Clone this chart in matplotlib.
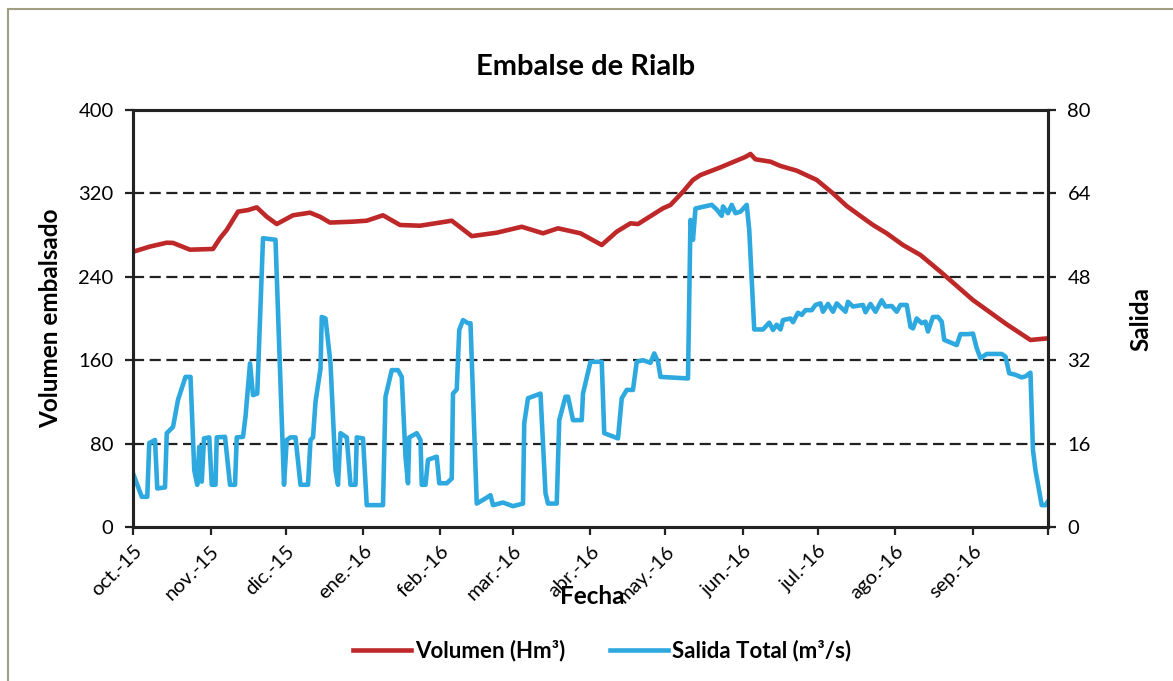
import pandas as pd
import matplotlib.pyplot as plt
from matplotlib.patches import Rectangle

plt.rcParams['font.family'] = ['Lato', 'DejaVu Sans']

#-----------------------------------------------------------------#
# Datos (dias desde 1-oct-2015)

inicio = pd.Timestamp('2015-10-01')

dias_vol = [0, 6.8, 13.5, 16, 22.8, 32, 34.8, 37.5, 42, 46, 49.5, 53.5, 57.5, 64,
            70.8, 74.8, 78.8, 88, 93.5, 100, 106.8, 114.8, 122.8, 127.5, 135.5,
            145.5, 155.5, 164, 170, 179, 187.5, 193.5, 199, 202, 212, 215, 220,
            224, 227, 235, 245, 247, 249, 255, 259, 265.5, 273.5, 280, 285.5, 291,
            296, 301.5, 308, 315, 323, 336, 349.5, 359, 366]
volumen = [264, 269, 272.7, 272.5, 266, 266.7, 277, 285, 302.5, 304, 306.6, 297.6,
           290.6, 299, 301.5, 297.6, 292, 292.9, 293.8, 299, 289.7, 289, 292, 293.8,
           279, 282.3, 288, 281.7, 286.5, 281.7, 270.5, 283.3, 291.3, 290.6, 305.7,
           308.9, 321.6, 332.9, 337.6, 345, 355, 357.8, 352.7, 350.4, 346.3, 341.8,
           332.9, 320, 307.9, 298.3, 289.7, 281.7, 270.5, 260.9, 244.9, 217.7, 194.4,
           179.4, 181]

dias_sal = [0, 3.5, 5.7, 6.5, 8.8, 9.7, 12.8, 13.5, 16, 18, 21, 23, 24.5, 25.7, 26.5,
            27.5, 28.4, 30.5, 31.5, 33, 33.5, 36.8, 38.8, 40.8, 41.5, 44, 45, 46.8, 48,
            49.7, 52, 57, 60.4, 61.5, 63, 65, 67, 70, 71, 72, 73, 75, 75.5, 77, 79, 81,
            82, 83, 85.5, 87, 89, 89.5, 92, 93.5, 100, 101, 103.5, 106, 107.5, 109, 110,
            110.5, 113.5, 115, 115.5, 117, 118, 121.5, 122.5, 125.5, 127.5, 128, 129.5,
            130.5, 132, 134, 135, 137.5, 140, 143, 144, 148, 152, 156, 156.5, 158, 163,
            165, 166, 169.5, 170.5, 173, 174, 176, 179.5, 180, 183, 187.5, 188.5, 194,
            195.5, 197.5, 200, 201.5, 204, 207, 208.5, 210, 211, 222, 223, 224, 225,
            231.5, 233.5, 235.5, 236, 238, 239.5, 241, 243, 245.5, 246.5, 248.5, 252,
            254.5, 256, 257.5, 259, 260, 263, 264, 266, 267.5, 269, 271.5, 273, 275,
            276, 278, 280, 281.5, 285, 286, 288, 292, 293, 295, 297, 299.5, 301, 303.5,
            305.5, 307, 309.5, 311, 312, 313.5, 315.5, 317, 318, 320, 322, 323.5, 324.5,
            328, 329.5, 331, 334, 336, 337.5, 339, 341.5, 347.5, 349, 350.5, 353, 355.5,
            357, 359, 360, 361, 363.5, 365, 366]
salida = [10.3, 5.8, 5.8, 16.1, 16.7, 7.4, 7.6, 18, 19.2, 24.4, 28.8, 28.8, 10.9, 8.1,
          15.4, 8.7, 17, 17.2, 8.1, 8.1, 17.2, 17.3, 8.1, 8.1, 17.2, 17.3, 21.2, 31.4,
          25.3, 25.6, 55.4, 55.1, 8.1, 16.7, 17.2, 17.2, 8.1, 8.1, 16.7, 17.2, 24, 30.4,
          40.3, 40, 31.4, 10.9, 8.1, 18, 17.2, 8.1, 8.1, 17.2, 17, 4.2, 4.2, 25, 30.1,
          30.1, 28.8, 13.5, 8.4, 17.2, 18, 16.7, 8.1, 8.1, 12.9, 13.5, 8.4, 8.4, 9.3,
          25.6, 26.4, 37.8, 39.7, 39.1, 39.1, 4.5, 5.2, 6.1, 4.2, 4.7, 4.0, 4.5, 19.9,
          24.7, 25.6, 6.5, 4.5, 4.5, 20.5, 25, 25, 20.5, 20.5, 25.6, 31.7, 31.7, 18, 17,
          24.7, 26.3, 26.3, 31.7, 32, 31.5, 33.3, 31.7, 28.8, 28.5, 58.9, 55.1, 61.1,
          61.8, 60.9, 59.7, 61.5, 60.2, 61.8, 60.2, 60.5, 61.8, 57, 37.9, 37.9, 39.2,
          37.8, 38.8, 37.9, 39.7, 40, 39.3, 41.1, 40.7, 41.6, 41.6, 42.6, 42.9, 41.3,
          42.8, 41.3, 42.9, 41.3, 43.2, 42.3, 42.6, 41.2, 42.8, 41.3, 43.5, 42.3, 42.4,
          41.3, 42.6, 42.6, 38.4, 38.1, 40, 39.1, 39.4, 37.5, 40.3, 40.3, 39.4, 35.9,
          35.2, 34.9, 37, 37, 37.1, 34.3, 32.4, 33.2, 33.2, 32.7, 29.5, 29.2, 28.7, 28.9,
          29.6, 14.8, 10.9, 4.2, 4.2, 4.9]

etiquetas = ['oct.-15', 'nov.-15', 'dic.-15', 'ene.-16', 'feb.-16', 'mar.-16',
             'abr.-16', 'may.-16', 'jun.-16', 'jul.-16', 'ago.-16', 'sep.-16']

fechas_vol = inicio + pd.to_timedelta(dias_vol, unit='D')
fechas_sal = inicio + pd.to_timedelta(dias_sal, unit='D')
meses = pd.date_range('2015-10-01', periods=12, freq='MS')

#-----------------------------------------------------------------#
# Grafica

fig = plt.figure(figsize=(11.73, 6.81), dpi=100)
ax = fig.add_axes([0.1134, 0.2261, 0.78, 0.6124])
ax2 = ax.twinx()

# borde del area del grafico
fig.patches.append(Rectangle((8 / 1173, -0.1), 1.2, 1.1 - 9 / 681, transform=fig.transFigure,
                             fill=False, edgecolor='#a09e80', linewidth=1.5))

for y in [80, 160, 240, 320]:
    ax.axhline(y, color='#222222', linestyle=(0, (5, 2.5)), linewidth=1.6, zorder=1)

l1, = ax.plot(fechas_vol, volumen, color='#BE2828', linewidth=3.3, label='Volumen (Hm³)',
              zorder=3)
l2, = ax2.plot(fechas_sal, salida, color='#2EA9DF', linewidth=3.3,
               label='Salida Total (m³/s)')

ax.set_xlim(pd.Timestamp('2015-10-01'), pd.Timestamp('2016-10-01'))
ax.set_ylim(0, 400)
ax2.set_ylim(0, 80)
ax.set_yticks([0, 80, 160, 240, 320, 400])
ax2.set_yticks([0, 16, 32, 48, 64, 80])
ax.set_xticks(list(meses) + [pd.Timestamp('2016-10-01')])
ax.set_xticklabels(etiquetas + [''], rotation=45, ha='right', rotation_mode='anchor')

for a in (ax, ax2):
    for s in a.spines.values():
        s.set_linewidth(2.2)
        s.set_color('#222222')
    a.tick_params(direction='out', length=6, width=1.6, labelsize=14.5, colors='#222222',
                  labelcolor='black')
ax.tick_params(axis='y', pad=8)
ax.tick_params(axis='x', pad=5)
ax2.tick_params(axis='y', pad=8)

ax.set_ylabel('Volumen embalsado', fontsize=17.5, fontweight='bold', labelpad=12)
ax2.set_ylabel('Salida', fontsize=17.5, fontweight='bold', labelpad=28)
fig.text(592 / 1173, 1 - 597 / 681, 'Fecha', fontsize=17.5, fontweight='bold',
         ha='center', va='center')
fig.text(586 / 1173, 1 - 67 / 681, 'Embalse de Rialb', fontsize=21, fontweight='bold',
         ha='center', va='center')

fig.legend(handles=[l1, l2], loc='center', bbox_to_anchor=(602 / 1173, 1 - 651 / 681),
           ncol=2, frameon=False, prop={'size': 16, 'weight': 'bold'},
           handlelength=2.6, handletextpad=0.2, columnspacing=2.0)

fig.savefig('out.png', dpi=100)
